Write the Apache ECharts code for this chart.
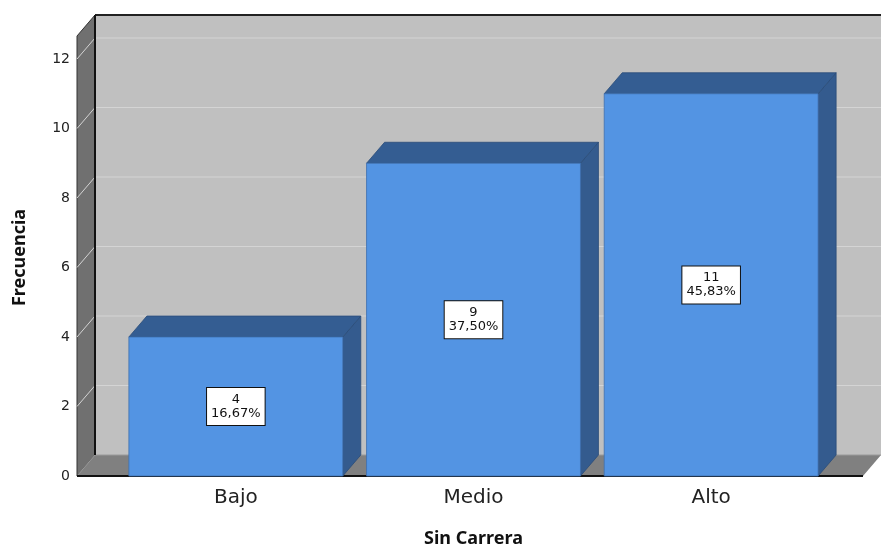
<!DOCTYPE html>
<html>
<head>
<meta charset="utf-8">
<script src="https://cdn.jsdelivr.net/npm/echarts@6/dist/echarts.min.js"></script>
<style>
  html, body { margin: 0; padding: 0; background: #fff; }
  #chart { width: 881px; height: 548px; }
</style>
</head>
<body>
<div id="chart"></div>
<script>
var categories = ["Bajo", "Medio", "Alto"];
var values = [4, 9, 11];
var percents = ["16,67%", "37,50%", "45,83%"];
var yTicks = [0, 2, 4, 6, 8, 10, 12];

// depth of the 3D effect
var DX = 18, DY = -21;

var chart = echarts.init(document.getElementById("chart"));

function renderWalls(params, api) {
  var cs = params.coordSys;
  var x0 = cs.x - 40;
  var xr = cs.x + cs.width + 33;
  var yb = cs.y + cs.height;
  var top = cs.y - 23;
  var kids = [];
  // back wall
  kids.push({
    type: "rect",
    shape: { x: x0 + DX, y: top + DY, width: xr - x0, height: yb - top },
    style: { fill: "#c0c0c0" }
  });
  // left wall
  kids.push({
    type: "polygon",
    shape: { points: [[x0, top], [x0 + DX, top + DY], [x0 + DX, yb + DY], [x0, yb]] },
    style: { fill: "#707070", stroke: "#333", lineWidth: 1 }
  });
  // floor
  kids.push({
    type: "polygon",
    shape: { points: [[x0, yb], [x0 + DX, yb + DY], [xr + DX, yb + DY], [xr, yb]] },
    style: { fill: "#808080" }
  });
  // grid lines
  yTicks.forEach(function (v) {
    var y = api.coord([0, v])[1];
    kids.push({
      type: "polyline",
      shape: { points: [[x0, y], [x0 + DX, y + DY], [xr + DX, y + DY]] },
      style: { stroke: v === 0 ? "#9a9a9a" : "#d4d4d4", lineWidth: 1, fill: null }
    });
  });
  // edges
  kids.push({
    type: "line",
    shape: { x1: x0 + DX, y1: top + DY, x2: xr + DX, y2: top + DY },
    style: { stroke: "#222", lineWidth: 2 }
  });
  kids.push({
    type: "line",
    shape: { x1: x0 + DX, y1: top + DY, x2: x0 + DX, y2: yb + DY },
    style: { stroke: "#111", lineWidth: 2 }
  });
  kids.push({
    type: "line",
    shape: { x1: x0, y1: yb, x2: xr, y2: yb },
    style: { stroke: "#111", lineWidth: 2 }
  });
  return { type: "group", children: kids };
}

function renderBar(params, api) {
  var idx = api.value(0);
  var val = api.value(1);
  var p = api.coord([idx, val]);
  var base = api.coord([idx, 0])[1];
  var w = api.size([1, 0])[0] * 0.9;
  var xl = p[0] - w / 2, xr = p[0] + w / 2, top = p[1];
  var edge = "#2b4c78";
  return {
    type: "group",
    children: [
      {
        type: "polygon",
        shape: { points: [[xr, top], [xr + DX, top + DY], [xr + DX, base + DY], [xr, base]] },
        style: { fill: "#345b8e", stroke: edge, lineWidth: 0.8 }
      },
      {
        type: "polygon",
        shape: { points: [[xl, top], [xl + DX, top + DY], [xr + DX, top + DY], [xr, top]] },
        style: { fill: "#345d92", stroke: edge, lineWidth: 0.8 }
      },
      {
        type: "rect",
        shape: { x: xl, y: top, width: w, height: base - top },
        style: { fill: "#5394e3", stroke: "#3d6fae", lineWidth: 0.8 }
      },
      {
        type: "text",
        x: p[0],
        y: (top + base) / 2,
        style: {
          text: values[idx] + "\n" + percents[idx],
          align: "center",
          verticalAlign: "middle",
          fontFamily: "DejaVu Sans",
          fontSize: 13,
          lineHeight: 14,
          fill: "#111",
          backgroundColor: "#fff",
          borderColor: "#111",
          borderWidth: 1,
          padding: [5, 4, 4, 4]
        }
      }
    ]
  };
}

var option = {
  backgroundColor: "#fff",
  animation: false,
  grid: { left: 117, right: 51, top: 59, bottom: 72, outerBoundsMode: "none" },
  xAxis: {
    type: "category",
    data: categories,
    name: "Sin Carrera",
    nameLocation: "middle",
    nameGap: 54,
    nameTextStyle: { fontFamily: "Noto Sans", fontWeight: "bold", fontSize: 18, color: "#111" },
    axisLine: { show: false },
    axisTick: { show: false },
    axisLabel: { fontFamily: "DejaVu Sans", fontSize: 20, color: "#222", margin: 12 },
    splitLine: { show: false }
  },
  yAxis: {
    type: "value",
    min: 0,
    max: 12,
    interval: 2,
    offset: 40,
    name: "Frecuencia",
    nameLocation: "middle",
    nameGap: 48,
    nameTextStyle: { fontFamily: "Noto Sans", fontWeight: "bold", fontSize: 18, color: "#111", padding: [0, 0, 0, 20] },
    axisLine: { show: false },
    axisTick: { show: false },
    axisLabel: { fontFamily: "DejaVu Sans", fontSize: 14, color: "#222", margin: 7 },
    splitLine: { show: false }
  },
  series: [
    {
      type: "custom",
      renderItem: renderWalls,
      data: [[0, 0]],
      z: 1,
      silent: true
    },
    {
      type: "custom",
      renderItem: renderBar,
      data: values.map(function (v, i) { return [i, v]; }),
      z: 2
    }
  ]
};

chart.setOption(option);
</script>
</body>
</html>
